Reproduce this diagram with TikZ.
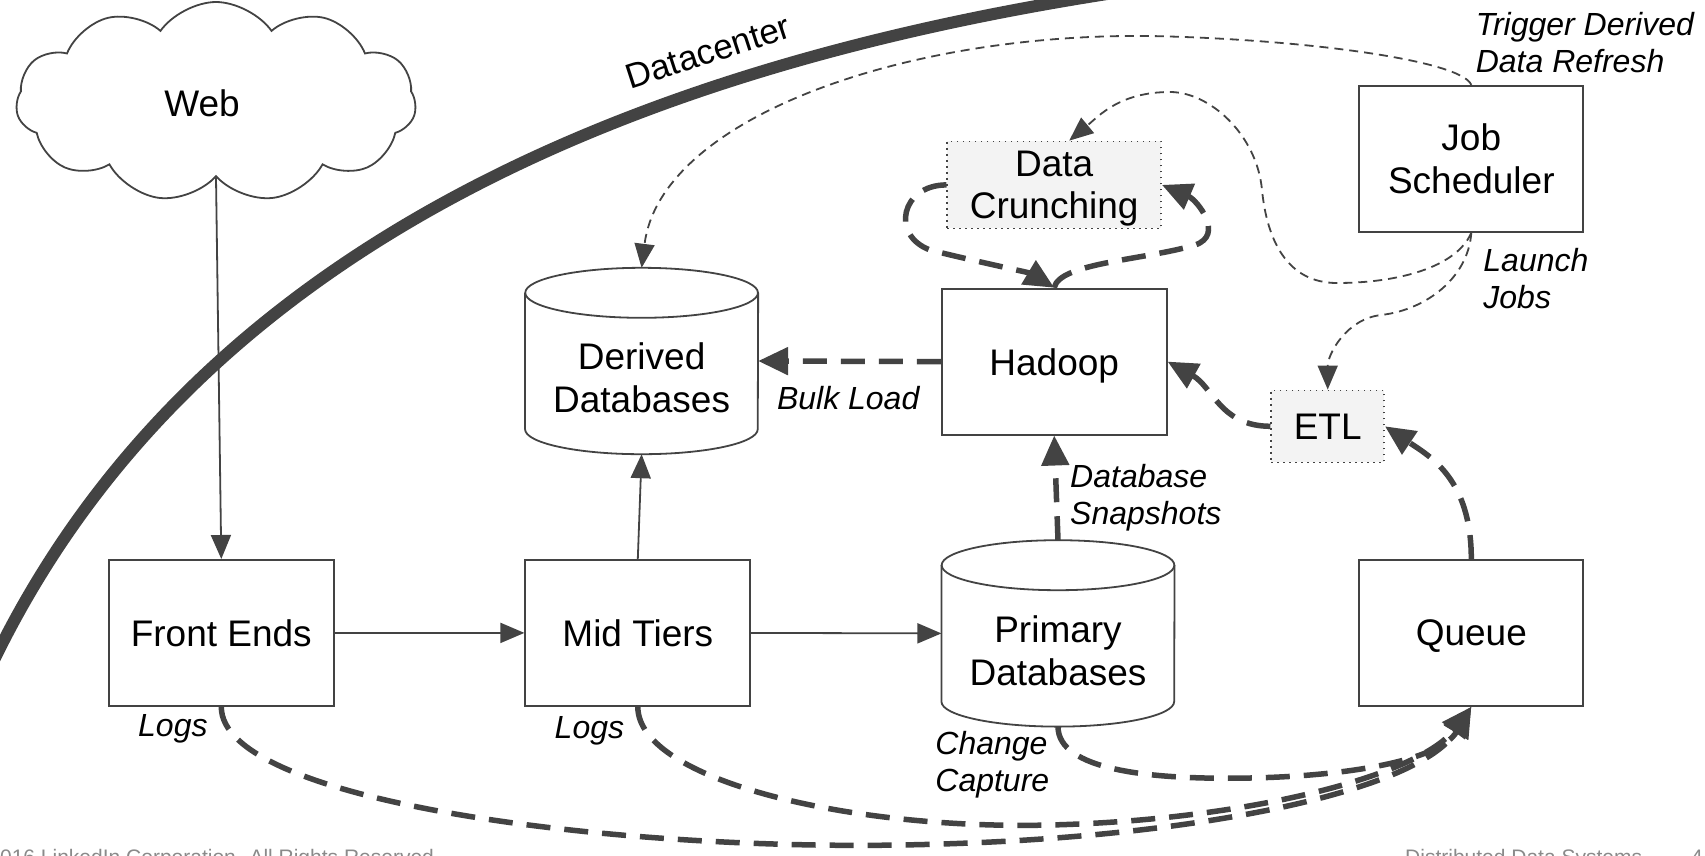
\documentclass[tikz,border=0pt]{standalone}
\usepackage{fontspec}
\setmainfont{Liberation Sans}
\usetikzlibrary{arrows.meta,shapes.symbols}
\definecolor{dk}{HTML}{434343}
\definecolor{lightfill}{HTML}{F3F3F3}
\definecolor{footgray}{HTML}{8A8A8A}
\newcommand\nodefont{\fontsize{37}{42.5}\selectfont}
\newcommand\dcfont{\fontsize{35}{40}\selectfont}
\newcommand\lblfont{\fontsize{32}{37}\selectfont\itshape}
\newcommand\footfont{\fontsize{21}{25}\selectfont}
\newcommand\dbcyl[1]{%
  \draw[boxline] ([yshift=-25pt]#1.north west) -- ([yshift=25pt]#1.south west)
    arc[start angle=180,end angle=360,x radius=116.35pt,y radius=25pt]
    -- ([yshift=-25pt]#1.north east);
  \draw[boxline] ([yshift=-25pt]#1.north) ellipse[x radius=116.35pt,y radius=25pt];}
\tikzset{
  boxline/.style={draw=dk, line width=1.8pt},
  box/.style={boxline, rectangle, minimum width=225pt, minimum height=146pt, inner sep=0pt, font=\nodefont, align=center, text depth=0pt},
  dotbox/.style={draw=dk, line width=1.5pt, dash pattern=on 1.5pt off 4.5pt, fill=lightfill, rectangle, inner sep=0pt, font=\nodefont, align=center, text depth=0pt},
  db/.style={rectangle, minimum width=232.7pt, minimum height=186pt, inner sep=0pt},
  txt/.style={font=\nodefont, align=center, inner sep=0pt},
  lbl/.style={font=\lblfont, align=left, inner sep=0pt},
  footlbl/.style={font=\footfont, text=footgray, inner sep=0pt},
  thinarr/.style={draw=dk, line width=1.8pt, -{Triangle[length=24pt,width=20pt]}},
  thindash/.style={draw=dk, line width=1.8pt, dash pattern=on 9pt off 6pt, -{Triangle[length=24pt,width=20pt]}},
  thickdash/.style={draw=dk, line width=5.5pt, dash pattern=on 24pt off 14pt, -{Triangle[length=30pt,width=27pt]}},
}
\begin{document}
\begin{tikzpicture}[x=1pt,y=-1pt]
\useasboundingbox (0,0) rectangle (1705,855);
\clip (0,0) rectangle (1705,855);

% datacenter boundary
\draw[dk, line width=12pt] (-20,690) .. controls (150,310) and (530,82) .. (1120,-8);
\node[font=\dcfont, inner sep=0pt, rotate=18] (dctr) at (708,52) {Datacenter};

% nodes
\node[cloud, cloud puffs=11, cloud puff arc=110, aspect=2, boxline, minimum width=400pt, minimum height=200pt] (WEB) at (216,102) {};
\node[txt] (WEBt) at (202,103) {Web};
\node[box] (FE) at (221.3,632.9) {Front Ends};
\node[box] (MT) at (637.8,632.9) {Mid Tiers};
\node[box] (HD) at (1054.2,361.6) {Hadoop};
\node[box, minimum width=224pt] (JS) at (1471.3,158.8) {Job\\Scheduler};
\node[box, minimum width=224pt] (QU) at (1471.3,632.9) {Queue};
\node[dotbox, minimum width=214pt, minimum height=87pt] (DC) at (1054.2,184.9) {Data\\Crunching};
\node[dotbox, minimum width=113pt, minimum height=72pt] (ETL) at (1327.7,426.3) {ETL};
\node[db] (DDB) at (641.6,361) {};
\node[db] (PDB) at (1058,633.4) {};
\dbcyl{DDB}
\dbcyl{PDB}
\node[txt] (DDBt) at (641.6,378) {Derived\\Databases};
\node[txt] (PDBt) at (1058,651) {Primary\\Databases};

% labels
\node[lbl, anchor=west] (trig) at (1475.6,42.4) {Trigger Derived\\Data Refresh};
\node[lbl, anchor=west] (launch) at (1483.2,278.9) {Launch\\Jobs};
\node[lbl] (bulk) at (848.2,398) {Bulk Load};
\node[lbl, anchor=west] (snap) at (1070,498) {Database\\Snapshots};
\node[lbl] (log1) at (172.9,728.6) {Logs};
\node[lbl] (log2) at (589.4,730.7) {Logs};
\node[lbl, anchor=west] (chg) at (935.2,765) {Change\\Capture};

% footer
\node[footlbl, anchor=base east] (copy) at (440,864) {©2016 LinkedIn Corporation. All Rights Reserved.};
\node[footlbl, anchor=base west] (dds) at (1405,864) {Distributed Data Systems};
\node[footlbl, anchor=base west] (pg) at (1691,864) {4};

% solid connectors
\draw[thinarr] (WEB.south) -- (FE.north);
\draw[thinarr] (FE.east) -- (MT.west);
\draw[thinarr] (MT.east) -- (PDB.west);
\draw[thinarr] (MT.north) -- (DDB.south);

% thick dashed connectors
\draw[thickdash] (HD.west) -- (DDB.east);
\draw[thickdash] (PDB.north) -- (HD.south);
\draw[thickdash] (ETL.west) .. controls +(-50,0) and +(45,25) .. (HD.east);
\draw[thickdash] (QU.north) .. controls +(0,-80) and +(45,30) .. (ETL.east);
\draw[thickdash] (DC.west) .. controls +(-45,0) and +(-40,-15) .. (930,250)
   .. controls +(40,10) and +(-25,-15) .. (HD.north);
\draw[thickdash] (HD.north) .. controls +(5,-25) and +(-50,15) .. (1195,245)
   .. controls +(30,-10) and +(35,15) .. (DC.east);
\draw[thickdash] (FE.south) .. controls (221,800) and (600,850) .. (900,845)
   .. controls (1200,840) and (1420,790) .. (QU.south);
\draw[thickdash] (MT.south) .. controls (638,780) and (850,830) .. (1050,825)
   .. controls (1250,820) and (1420,775) .. (QU.south);
\draw[thickdash] (PDB.south) .. controls (1058,770) and (1150,780) .. (1250,778)
   .. controls (1350,776) and (1440,760) .. (QU.south);

% thin dashed connectors
\draw[thindash] (JS.south) .. controls +(-15,35) and +(60,0) .. (1337,283)
   .. controls +(-50,0) and +(5,50) .. (1262,190)
   .. controls +(-5,-55) and +(40,0) .. (1170,92)
   .. controls +(-50,0) and +(30,-25) .. ([xshift=15pt]DC.north);
\draw[thindash] (JS.south) .. controls +(-3,45) and +(45,-5) .. (1381,315)
   .. controls +(-35,4) and +(0,-35) .. (ETL.north);
\draw[thindash] (JS.north) .. controls +(-10,-25) and +(150,3) .. (1150,36)
   .. controls (900,33) and (660,120) .. (DDB.north);
\end{tikzpicture}
\end{document}
